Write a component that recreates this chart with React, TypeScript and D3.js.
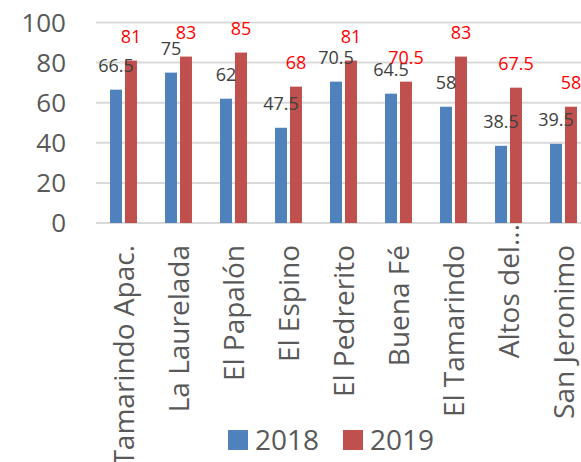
import React from "react";
import * as d3 from "d3";

const categories = [
  "Tamarindo Apac.",
  "La Laurelada",
  "El Papalón",
  "El Espino",
  "El Pedrerito",
  "Buena Fé",
  "El Tamarindo",
  "Altos del...",
  "San Jeronimo",
];
const values2018 = [66.5, 75, 62, 47.5, 70.5, 64.5, 58, 38.5, 39.5];
const values2019 = [81, 83, 85, 68, 81, 70.5, 83, 67.5, 58];
const seriesNames = ["2018", "2019"];
const yTickValues = [0, 20, 40, 60, 80, 100];

const colors = ["#4F81BD", "#C0504D"];
const labelColors = ["#404040", "#FF0000"];
const font = "'Open Sans', sans-serif";

export default function App() {
  const width = 581;
  const height = 462;
  const plot = { left: 96, right: 591, top: 22.5, bottom: 223 };

  const xScale = d3.scaleBand<string>()
    .domain(categories)
    .range([plot.left, plot.right])
    .paddingInner(0.51)
    .paddingOuter(0.255);
  const xSeries = d3.scaleBand<string>()
    .domain(seriesNames)
    .range([0, xScale.bandwidth()])
    .paddingInner(0.2);
  const yScale = d3.scaleLinear().domain([0, 100]).range([plot.bottom, plot.top]);

  const series = [values2018, values2019];

  return (
    <svg
      width={width}
      height={height}
      style={{ position: "absolute", left: 0, top: 0, background: "#fff" }}
      fontFamily={font}
    >
      {/* grid */}
      {yTickValues.map((t) => (
        <line
          key={"g" + t}
          x1={plot.left}
          x2={width}
          y1={yScale(t)}
          y2={yScale(t)}
          stroke="#D9D9D9"
          strokeWidth={2}
        />
      ))}
      {yTickValues.map((t) => (
        <text
          key={"t" + t}
          x={66}
          y={yScale(t)}
          dy="0.36em"
          textAnchor="end"
          fontSize={26}
          fill="#595959"
        >
          {t}
        </text>
      ))}

      {/* bars */}
      {series.map((vals, s) => (
        <g key={"s" + s}>
          {vals.map((v, i) => {
            const x = (xScale(categories[i]) ?? 0) + (xSeries(seriesNames[s]) ?? 0);
            return (
              <rect
                key={i}
                x={x}
                y={yScale(v)}
                width={xSeries.bandwidth()}
                height={yScale(0) - yScale(v)}
                fill={colors[s]}
              />
            );
          })}
        </g>
      ))}

      {/* data labels */}
      {series.map((vals, s) => (
        <g key={"l" + s}>
          {vals.map((v, i) => {
            const x =
              (xScale(categories[i]) ?? 0) +
              (xSeries(seriesNames[s]) ?? 0) +
              xSeries.bandwidth() / 2;
            return (
              <text
                key={i}
                x={x}
                y={yScale(v) - 17.5}
                textAnchor="middle"
                fontSize={18}
                fill={labelColors[s]}
              >
                {v}
              </text>
            );
          })}
        </g>
      ))}

      {/* category labels (truncated ones hug the axis, like Excel does) */}
      {categories.map((c) => {
        const cx = (xScale(c) ?? 0) + xScale.bandwidth() / 2;
        const top = c.endsWith("...") ? 224 : 245;
        return (
          <text
            key={c}
            transform={`translate(${cx},${top}) rotate(-90)`}
            dy="0.36em"
            textAnchor="end"
            fontSize={28}
            fill="#595959"
          >
            {c}
          </text>
        );
      })}

      {/* legend */}
      {seriesNames.map((name, s) => {
        const lx = 228 + s * 115;
        return (
          <g key={name} transform={`translate(${lx},430)`}>
            <rect width={20} height={20} fill={colors[s]} />
            <text x={27} y={10} dy="0.36em" fontSize={28} fill="#595959">
              {name}
            </text>
          </g>
        );
      })}
    </svg>
  );
}
